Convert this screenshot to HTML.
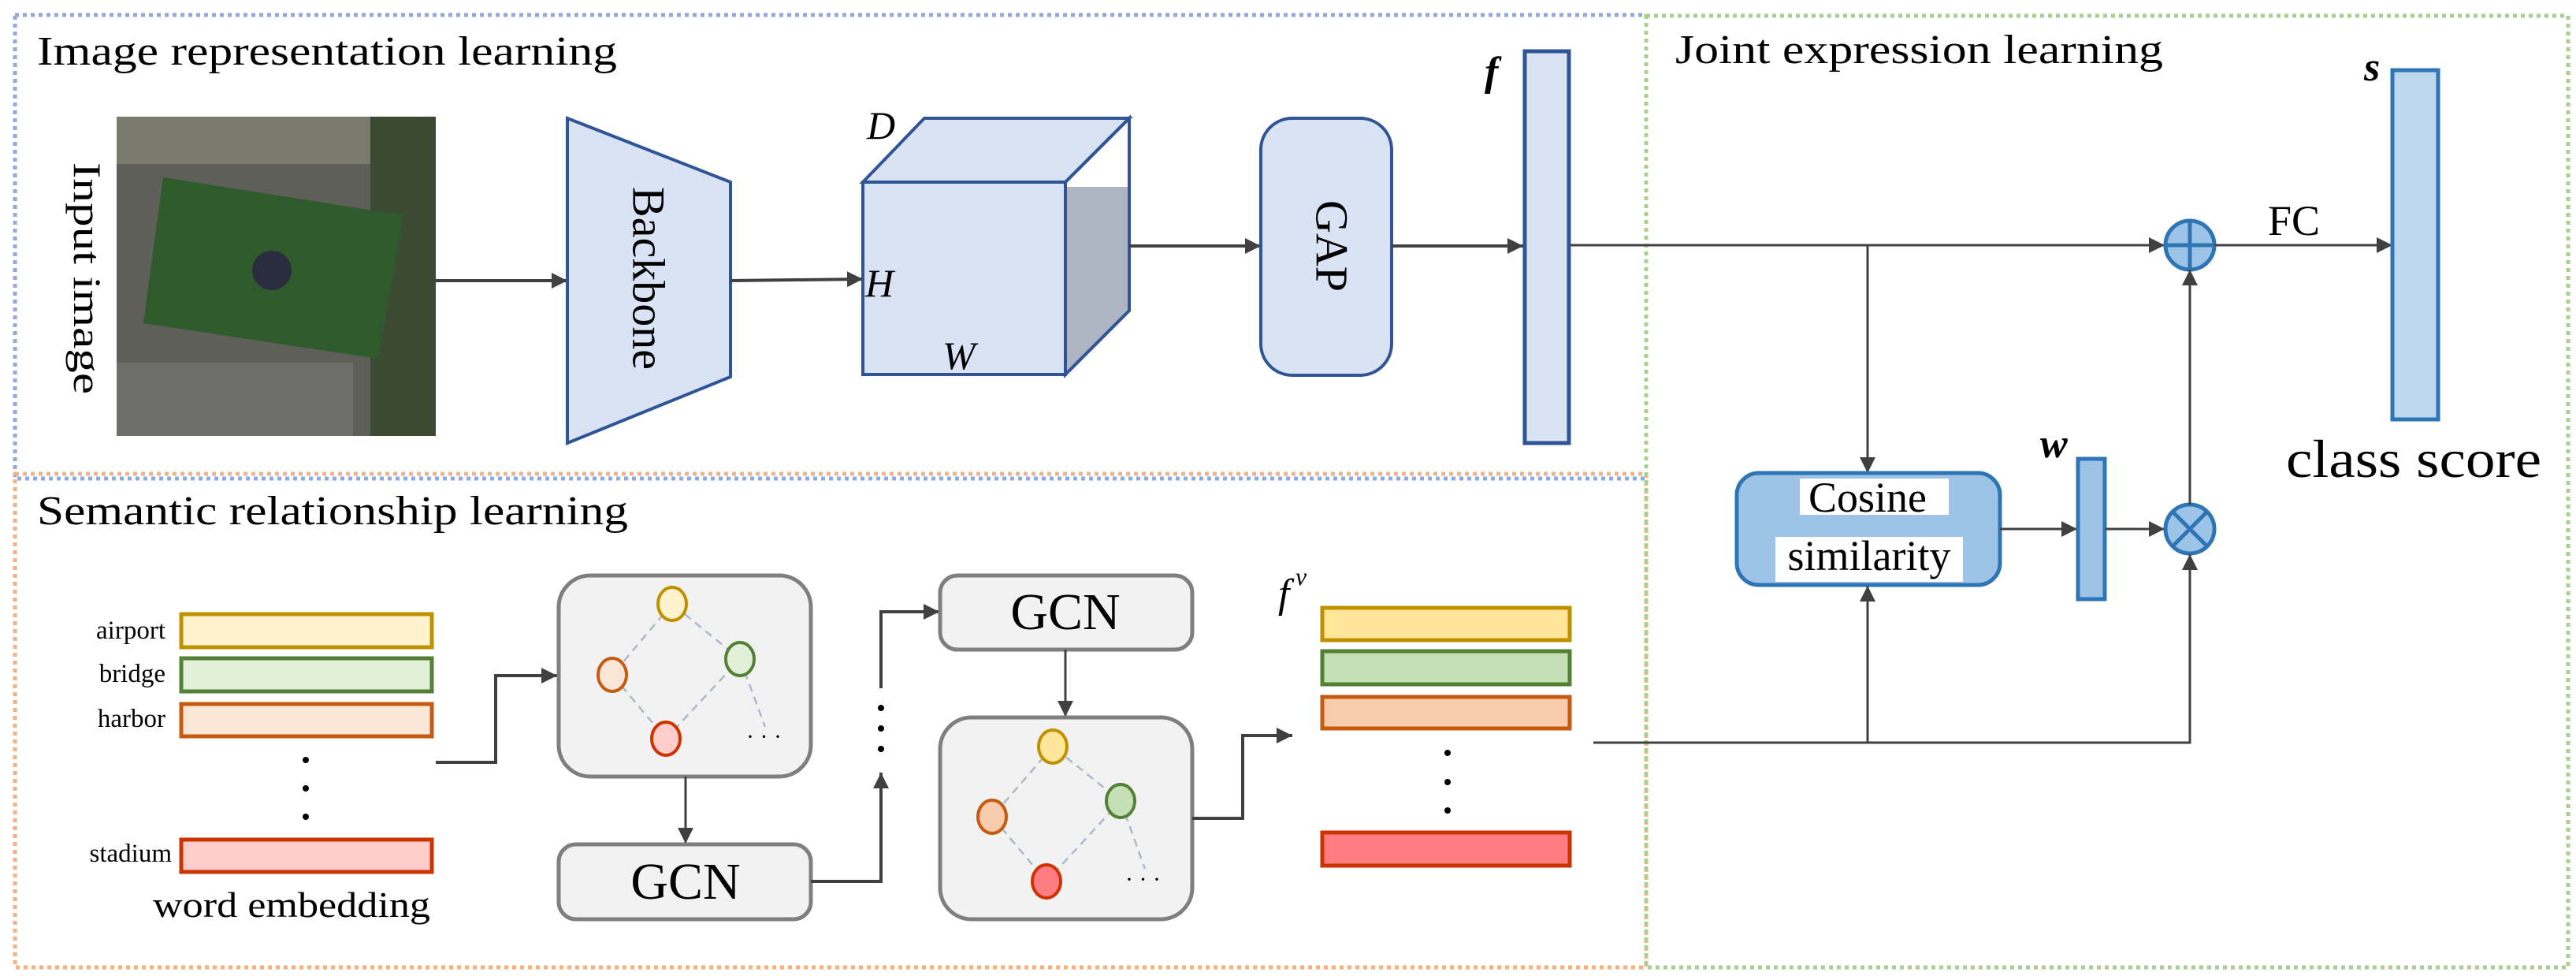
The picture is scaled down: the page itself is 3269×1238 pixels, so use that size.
<!DOCTYPE html>
<html><head><meta charset="utf-8"><style>html,body{margin:0;padding:0;background:#fff}svg{display:block}svg text{font-family:"Liberation Serif","Times New Roman",serif}</style></head><body>
<svg width="3269" height="1238" viewBox="0 0 3269 1238" xmlns="http://www.w3.org/2000/svg">
<defs>
<marker id="a" viewBox="0 0 10 10" refX="10" refY="5" markerWidth="20" markerHeight="20" markerUnits="userSpaceOnUse" orient="auto"><path d="M0,0 L10,5 L0,10 z" fill="#404040"/></marker>
</defs>
<rect x="19" y="19" width="2070" height="588" fill="none" stroke="#8faadc" stroke-width="5" stroke-dasharray="5 5"/>
<rect x="19" y="601" width="2070" height="626" fill="none" stroke="#f4b183" stroke-width="5" stroke-dasharray="5 5"/>
<rect x="2089" y="20" width="1170" height="1207" fill="none" stroke="#a9d18e" stroke-width="5" stroke-dasharray="5 5"/>

<text x="47" y="82" font-size="52" textLength="736" lengthAdjust="spacingAndGlyphs">Image representation learning</text>
<text x="47" y="665" font-size="52" textLength="750" lengthAdjust="spacingAndGlyphs">Semantic relationship learning</text>
<text x="2126" y="80" font-size="52" textLength="619" lengthAdjust="spacingAndGlyphs">Joint expression learning</text>

<rect x="148" y="148" width="405" height="405" fill="#5d5f58"/>
<rect x="148" y="148" width="405" height="60" fill="#7a7a6e"/>
<rect x="470" y="148" width="83" height="405" fill="#3d4a33"/>
<rect x="148" y="460" width="300" height="93" fill="#6e6e6a"/>
<polygon points="207,225 512,273 480,455 182,410" fill="#2f5a2c"/>
<circle cx="345" cy="343" r="25" fill="#2a2d3e"/>
<text x="94" y="353" font-size="50" text-anchor="middle" transform="rotate(90 94 353)" textLength="294" lengthAdjust="spacingAndGlyphs">Input image</text>

<line x1="553" y1="356" x2="720" y2="356" stroke="#404040" stroke-width="4" marker-end="url(#a)"/>
<polygon points="720,150 927,231 927,478 720,562" fill="#dae3f3" stroke="#2f5597" stroke-width="4"/>
<text x="817" y="353" font-size="58" text-anchor="middle" dominant-baseline="middle" transform="rotate(90 817 353)">Backbone</text>
<line x1="927" y1="356" x2="1095" y2="354" stroke="#404040" stroke-width="4" marker-end="url(#a)"/>

<polygon points="1095,231 1173,150 1433,150 1352,231" fill="#dae3f3" stroke="#2f5597" stroke-width="4"/>
<polygon points="1352,237 1433,237 1433,394 1352,475" fill="#adb4c2"/>
<polygon points="1352,231 1433,150 1433,394 1352,475" fill="none" stroke="#2f5597" stroke-width="4"/>
<rect x="1095" y="231" width="257" height="244" fill="#dae3f3" stroke="#2f5597" stroke-width="4"/>
<text x="1100" y="176" font-size="50" font-style="italic">D</text>
<text x="1098" y="376" font-size="50" font-style="italic">H</text>
<text x="1196" y="468" font-size="50" font-style="italic">W</text>

<line x1="1433" y1="312" x2="1600" y2="312" stroke="#404040" stroke-width="4" marker-end="url(#a)"/>
<rect x="1600" y="150" width="166" height="326" rx="40" fill="#dae3f3" stroke="#2f5597" stroke-width="4"/>
<text x="1684" y="312" font-size="58" text-anchor="middle" dominant-baseline="middle" transform="rotate(90 1684 312)">GAP</text>
<line x1="1766" y1="312" x2="1933" y2="312" stroke="#404040" stroke-width="4" marker-end="url(#a)"/>
<rect x="1935" y="65" width="56" height="497" fill="#dae3f3" stroke="#2f5597" stroke-width="5"/>
<text x="1884" y="108" font-size="52" font-style="italic" font-weight="bold">f</text>

<line x1="1993" y1="311" x2="2747" y2="311" stroke="#404040" stroke-width="3" marker-end="url(#a)"/>
<line x1="2370" y1="311" x2="2370" y2="600" stroke="#404040" stroke-width="3" marker-end="url(#a)"/>
<circle cx="2779" cy="311" r="31" fill="#9dc3e6" stroke="#2e75b6" stroke-width="5"/>
<path d="M2748,311 H2810 M2779,280 V342" stroke="#2e75b6" stroke-width="5"/>
<line x1="2810" y1="311" x2="3036" y2="311" stroke="#404040" stroke-width="3" marker-end="url(#a)"/>
<text x="2878" y="298" font-size="54">FC</text>
<rect x="3036" y="89" width="58" height="443" fill="#bdd7ee" stroke="#2e75b6" stroke-width="5"/>
<text x="3000" y="102" font-size="52" font-style="italic" font-weight="bold">s</text>
<text x="2901" y="605" font-size="68" textLength="324" lengthAdjust="spacingAndGlyphs">class score</text>

<rect x="2204" y="600" width="334" height="142" rx="28" fill="#9dc3e6" stroke="#2e75b6" stroke-width="5"/>
<rect x="2284" y="607" width="189" height="46" fill="#fff"/>
<rect x="2253" y="681" width="238" height="57" fill="#fff"/>
<text x="2370" y="649" font-size="54" text-anchor="middle">Cosine</text>
<text x="2372" y="723" font-size="54" text-anchor="middle">similarity</text>
<line x1="2538" y1="671" x2="2636" y2="671" stroke="#404040" stroke-width="3" marker-end="url(#a)"/>
<rect x="2637" y="582" width="34" height="178" fill="#9dc3e6" stroke="#2e75b6" stroke-width="5"/>
<text x="2589" y="580" font-size="52" font-style="italic" font-weight="bold">w</text>
<line x1="2672" y1="671" x2="2747" y2="671" stroke="#404040" stroke-width="3" marker-end="url(#a)"/>
<circle cx="2779" cy="671" r="31" fill="#9dc3e6" stroke="#2e75b6" stroke-width="5"/>
<path d="M2757,649 L2801,693 M2801,649 L2757,693" stroke="#2e75b6" stroke-width="5"/>
<line x1="2779" y1="640" x2="2779" y2="342" stroke="#404040" stroke-width="3" marker-end="url(#a)"/>
<polyline points="2022,942 2779,942 2779,703" fill="none" stroke="#404040" stroke-width="3" marker-end="url(#a)"/>
<line x1="2370" y1="942" x2="2370" y2="743" stroke="#404040" stroke-width="3" marker-end="url(#a)"/>

<g stroke-width="5">
<rect x="230" y="779" width="318" height="42" fill="#fff2cc" stroke="#bf9000"/>
<rect x="230" y="835" width="318" height="42" fill="#e2f0d9" stroke="#538135"/>
<rect x="230" y="893" width="318" height="41" fill="#fbe5d6" stroke="#c55a11"/>
<rect x="230" y="1065" width="318" height="41" fill="#ffcccc" stroke="#cc3300"/>
</g>
<g font-size="33" text-anchor="end">
<text x="210" y="810">airport</text>
<text x="210" y="865">bridge</text>
<text x="210" y="922">harbor</text>
<text x="218" y="1093">stadium</text>
</g>
<g fill="#000"><circle cx="388" cy="964" r="4"/><circle cx="388" cy="1000" r="4"/><circle cx="388" cy="1036" r="4"/></g>
<text x="194" y="1163" font-size="46" textLength="352" lengthAdjust="spacingAndGlyphs">word embedding</text>

<polyline points="553,967 629,967 629,857 707,857" fill="none" stroke="#404040" stroke-width="4" marker-end="url(#a)"/>
<rect x="709" y="730" width="320" height="255" rx="40" fill="#f2f2f2" stroke="#7f7f7f" stroke-width="5"/>
<g stroke="#adb9ca" stroke-width="2.5" stroke-dasharray="10 7" fill="none">
<path d="M853,766 L777,856 L845,937 L939,836 Z M939,836 L971,922"/>
</g>
<ellipse cx="853" cy="766" rx="18" ry="21" fill="#fff2cc" stroke="#bf9000" stroke-width="4"/>
<ellipse cx="777" cy="856" rx="18" ry="21" fill="#fbe5d6" stroke="#c55a11" stroke-width="4"/>
<ellipse cx="939" cy="836" rx="18" ry="21" fill="#e2f0d9" stroke="#538135" stroke-width="4"/>
<ellipse cx="845" cy="937" rx="18" ry="21" fill="#ffcccc" stroke="#cc3300" stroke-width="4"/>
<text x="947" y="944" font-size="30">· · ·</text>

<line x1="870" y1="985" x2="870" y2="1070" stroke="#404040" stroke-width="3" marker-end="url(#a)"/>
<rect x="709" y="1071" width="320" height="95" rx="22" fill="#f2f2f2" stroke="#7f7f7f" stroke-width="5"/>
<text x="870" y="1140" font-size="66" text-anchor="middle">GCN</text>
<polyline points="1029,1118 1118,1118 1118,980" fill="none" stroke="#404040" stroke-width="4" marker-end="url(#a)"/>
<g fill="#000"><circle cx="1118" cy="898" r="4"/><circle cx="1118" cy="924" r="4"/><circle cx="1118" cy="950" r="4"/></g>
<polyline points="1118,873 1118,776 1192,776" fill="none" stroke="#404040" stroke-width="4" marker-end="url(#a)"/>
<rect x="1193" y="730" width="320" height="94" rx="22" fill="#f2f2f2" stroke="#7f7f7f" stroke-width="5"/>
<text x="1352" y="798" font-size="66" text-anchor="middle">GCN</text>
<line x1="1352" y1="824" x2="1352" y2="909" stroke="#404040" stroke-width="3" marker-end="url(#a)"/>
<rect x="1193" y="910" width="320" height="256" rx="40" fill="#f2f2f2" stroke="#7f7f7f" stroke-width="5"/>
<g stroke="#adb9ca" stroke-width="2.5" stroke-dasharray="10 7" fill="none">
<path d="M1336,947 L1259,1036 L1328,1118 L1422,1016 Z M1422,1016 L1453,1102"/>
</g>
<ellipse cx="1336" cy="947" rx="18" ry="21" fill="#ffe699" stroke="#bf9000" stroke-width="4"/>
<ellipse cx="1259" cy="1036" rx="18" ry="21" fill="#f8cbad" stroke="#c55a11" stroke-width="4"/>
<ellipse cx="1422" cy="1016" rx="18" ry="21" fill="#c5e0b4" stroke="#538135" stroke-width="4"/>
<ellipse cx="1328" cy="1118" rx="18" ry="21" fill="#ff7c80" stroke="#cc3300" stroke-width="4"/>
<text x="1428" y="1125" font-size="30">· · ·</text>

<polyline points="1513,1038 1577,1038 1577,933 1640,933" fill="none" stroke="#404040" stroke-width="4" marker-end="url(#a)"/>
<g stroke-width="5">
<rect x="1678" y="771" width="314" height="41" fill="#ffe699" stroke="#bf9000"/>
<rect x="1678" y="826" width="314" height="42" fill="#c5e0b4" stroke="#538135"/>
<rect x="1678" y="884" width="314" height="40" fill="#f8cbad" stroke="#c55a11"/>
<rect x="1678" y="1056" width="314" height="42" fill="#ff7c80" stroke="#cc3300"/>
</g>
<g fill="#000"><circle cx="1837" cy="955" r="4"/><circle cx="1837" cy="992" r="4"/><circle cx="1837" cy="1028" r="4"/></g>
<text x="1622" y="770" font-size="52" font-style="italic">f</text>
<text x="1644" y="742" font-size="32" font-style="italic">v</text>
</svg>
</body></html>
